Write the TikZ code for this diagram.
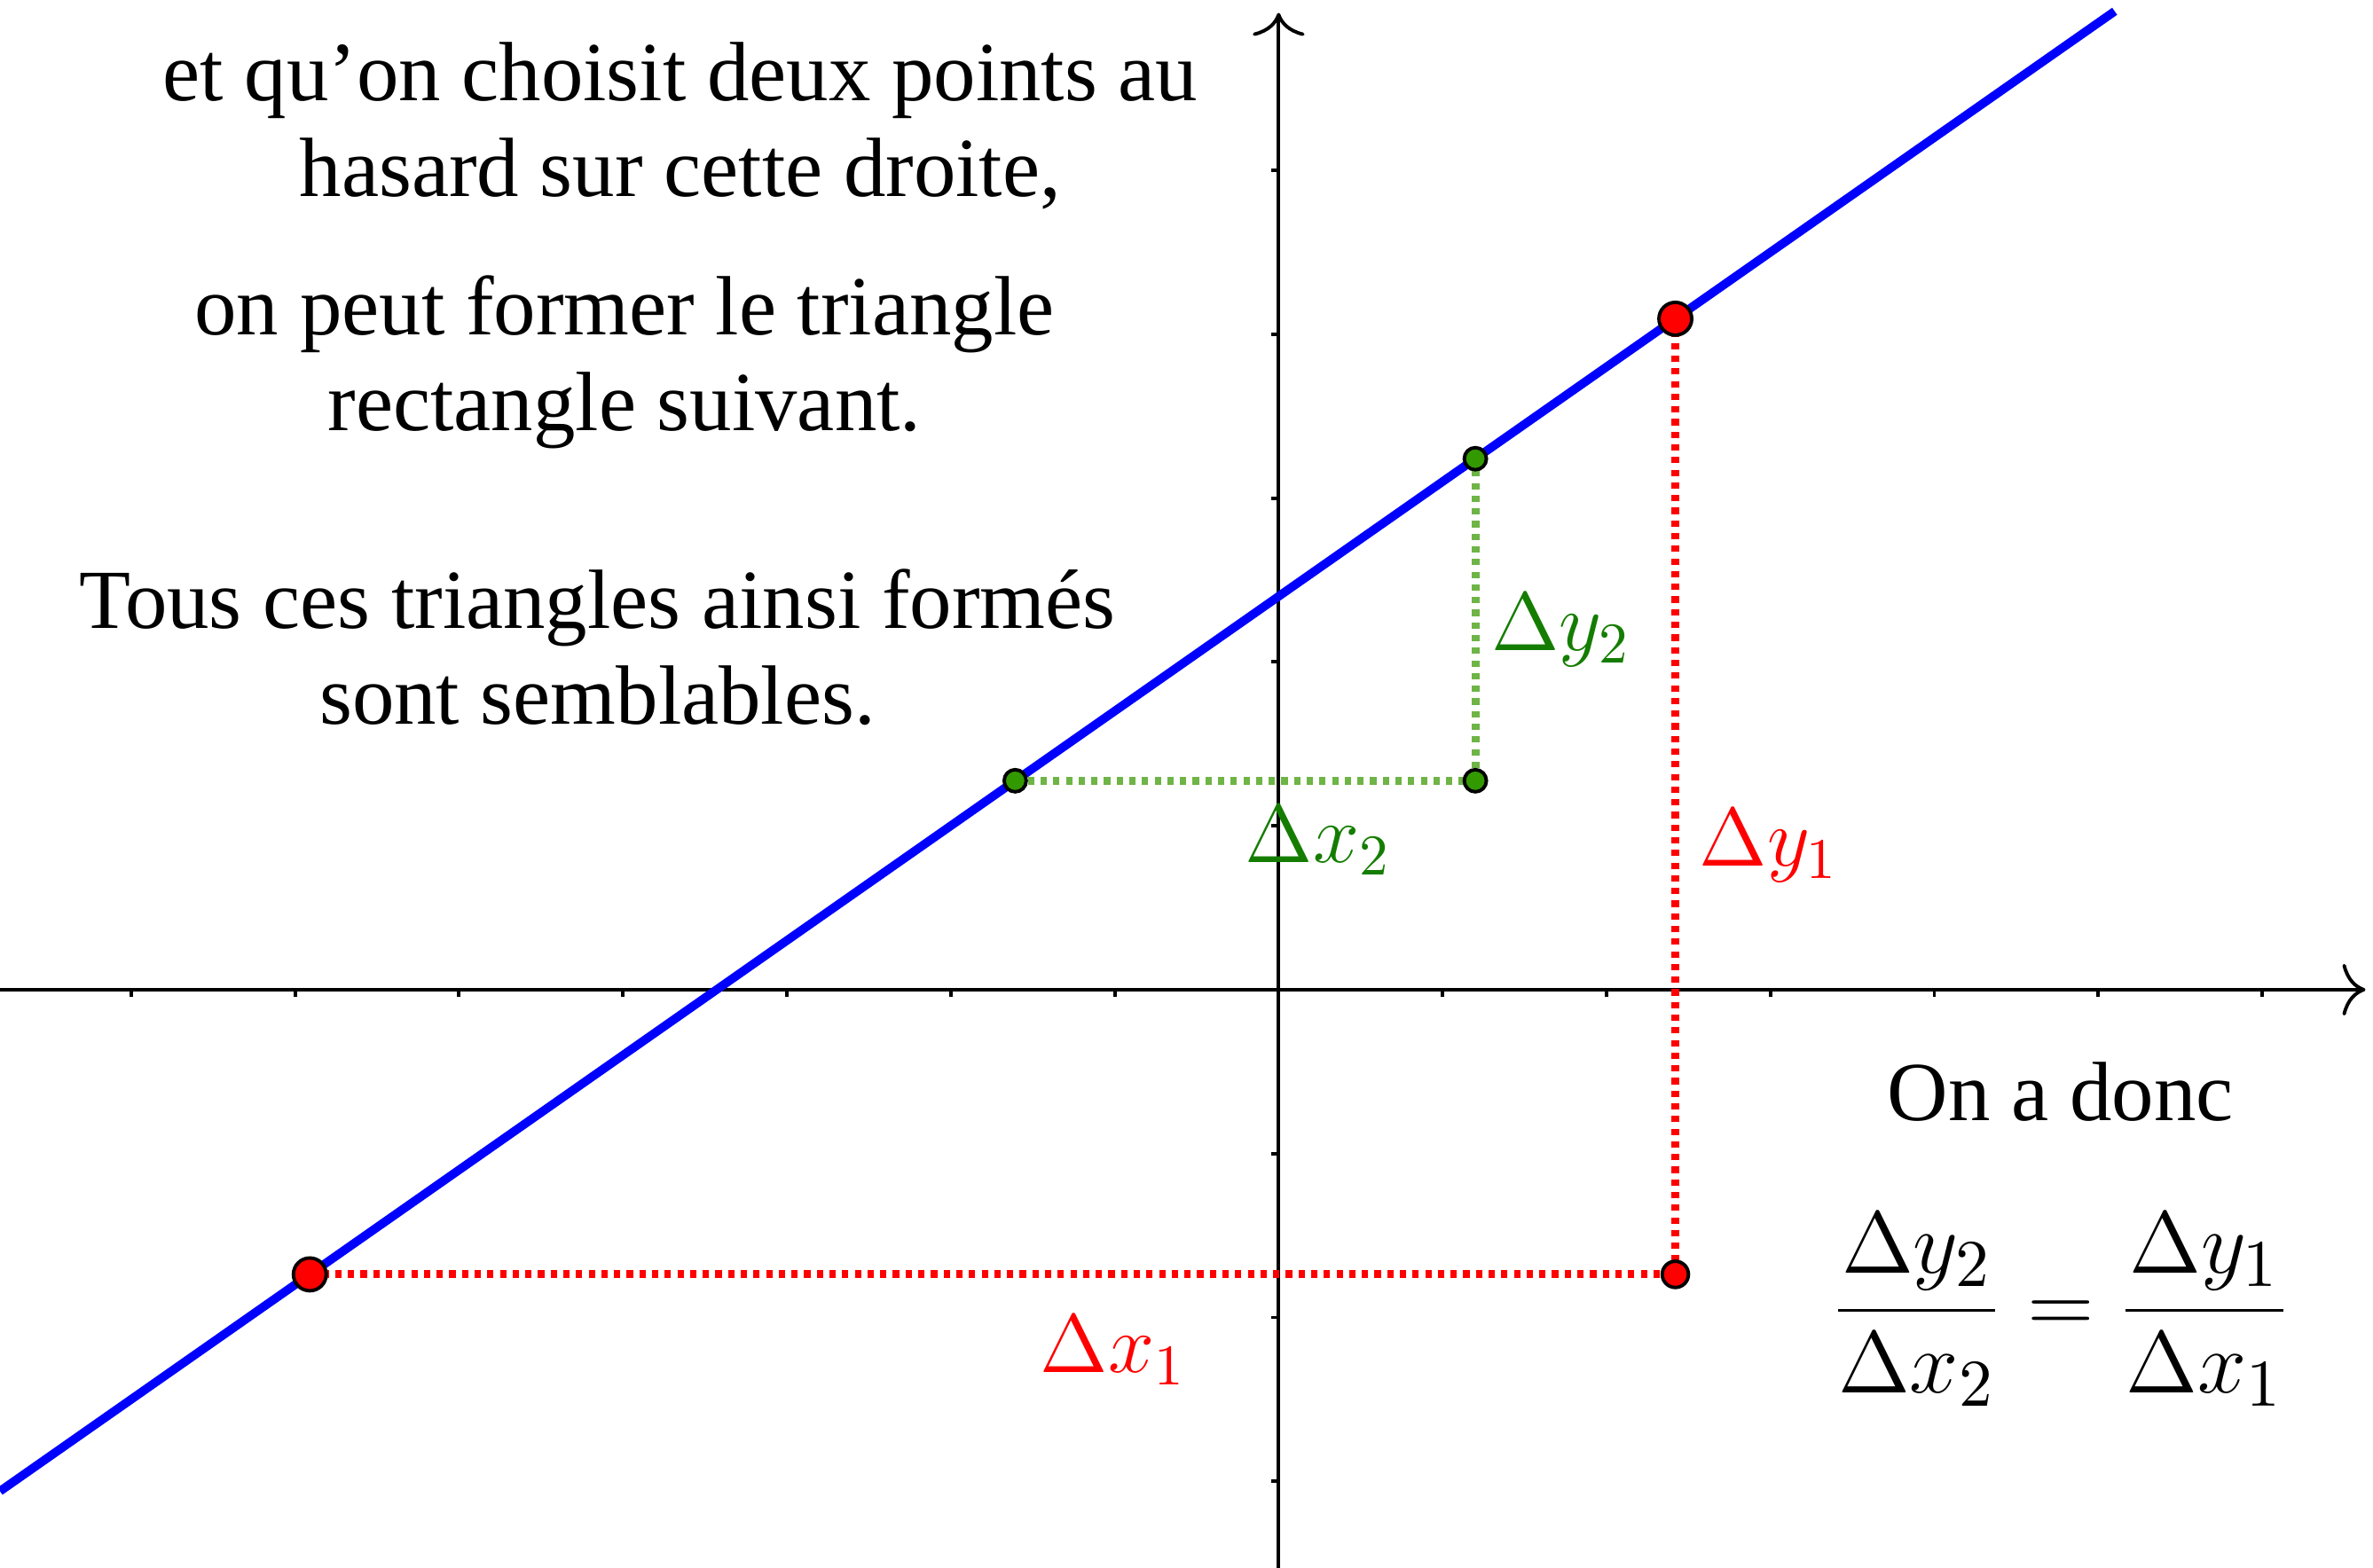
\documentclass[tikz,border=0pt]{standalone}
\usepackage{fontspec}
\setmainfont{Liberation Serif}
\usetikzlibrary{arrows.meta, backgrounds}

\definecolor{ptgreen}{RGB}{51,153,0}
\definecolor{dotgreen}{RGB}{110,180,70}
\definecolor{labgreen}{RGB}{20,125,0}

\begin{document}
\begin{tikzpicture}[
    >={To[length=4pt, width=9pt]},
    font=\fontsize{14.6}{16.6}\selectfont,
    axis/.style={->, line width=0.6pt},
    tickmark/.style={line width=0.6pt},
    droite/.style={draw=blue, line width=1.5pt},
    reddot/.style={draw=red, line width=1.4pt, dash pattern=on 1.1pt off 1.1pt},
    greendot/.style={draw=dotgreen, line width=1.4pt, dash pattern=on 1.1pt off 1.1pt},
    pt/.style={circle, draw=black, line width=0.6pt, inner sep=0pt},
    bigred/.style={pt, fill=red, minimum size=2mm},
    smallred/.style={pt, fill=red, minimum size=1.6mm},
    greenpt/.style={pt, fill=ptgreen, minimum size=1.35mm},
    redlabel/.style={text=red, inner sep=0pt, anchor=base west},
    greenlabel/.style={text=labgreen, inner sep=0pt, anchor=base west},
    texte/.style={align=center},
]
\useasboundingbox (-7.80,-3.527) rectangle (6.676,6.039);

% ============ POINTS ============
% y = 0.7x + 2.4
\node[bigred]   (A)  at (-5.91,-1.737) {};
\node[bigred]   (B)  at (2.42,4.094)   {};
\node[smallred] (AB) at (2.42,-1.737)  {};
\node[greenpt]  (C)  at (-1.607,1.275) {};
\node[greenpt]  (D)  at (1.2,3.24)     {};
\node[greenpt]  (CD) at (1.2,1.275)    {};

\coordinate (dstart) at (-7.80,-3.06);
\coordinate (dend)   at (5.10,5.97);

% ============ AXES + LINES (below the points) ============
\begin{pgfonlayer}{background}
    \coordinate (xmin) at (-7.80,0);
    \coordinate (xmax) at (6.63,0);
    \coordinate (ymin) at (0,-3.527);
    \coordinate (ymax) at (0,5.96);
    \draw[axis] (xmin) -- (xmax);
    \draw[axis] (ymin) -- (ymax);
    \foreach \x in {-7,...,-1,1,2,...,6}
        \draw[tickmark] (\x,0) -- (\x,-0.045);
    \foreach \y in {-3,-2,-1,1,2,...,5}
        \draw[tickmark] (0,\y) -- (-0.045,\y);

    \draw[reddot]   (A.center) -- (AB.center);
    \draw[reddot]   (AB.center) -- (B.center);
    \draw[greendot] (C.center) -- (CD.center);
    \draw[greendot] (CD.center) -- (D.center);
    \draw[droite] (dstart) -- (dend);
\end{pgfonlayer}

% ============ LABELS ============
\node[greenlabel] (dy2) at (1.29,2.07)    {$\Delta y_2$};
\node[greenlabel] (dx2) at (-0.21,0.776)  {$\Delta x_2$};
\node[redlabel]   (dy1) at (2.56,0.757)   {$\Delta y_1$};
\node[redlabel]   (dx1) at (-1.46,-2.336) {$\Delta x_1$};

% ============ TEXTS ============
\node[texte] (t1) at (-3.65,5.27) {et qu’on choisit deux points au \\ hasard sur cette droite,};
\node[texte] (t2) at (-3.99,3.83) {on peut former le triangle \\ rectangle suivant.};
\node[texte] (t3) at (-4.155,2.09) {Tous ces triangles ainsi formés \\ sont semblables.};

\node[anchor=base] (donc) at (4.77,-0.80) {On a donc};
\node[font=\fontsize{15.5}{18}\selectfont, scale=1.06] (egal) at (4.77,-1.95)
    {$\displaystyle\frac{\Delta y_2}{\Delta x_2}=\frac{\Delta y_1}{\Delta x_1}$};

\end{tikzpicture}
\end{document}
